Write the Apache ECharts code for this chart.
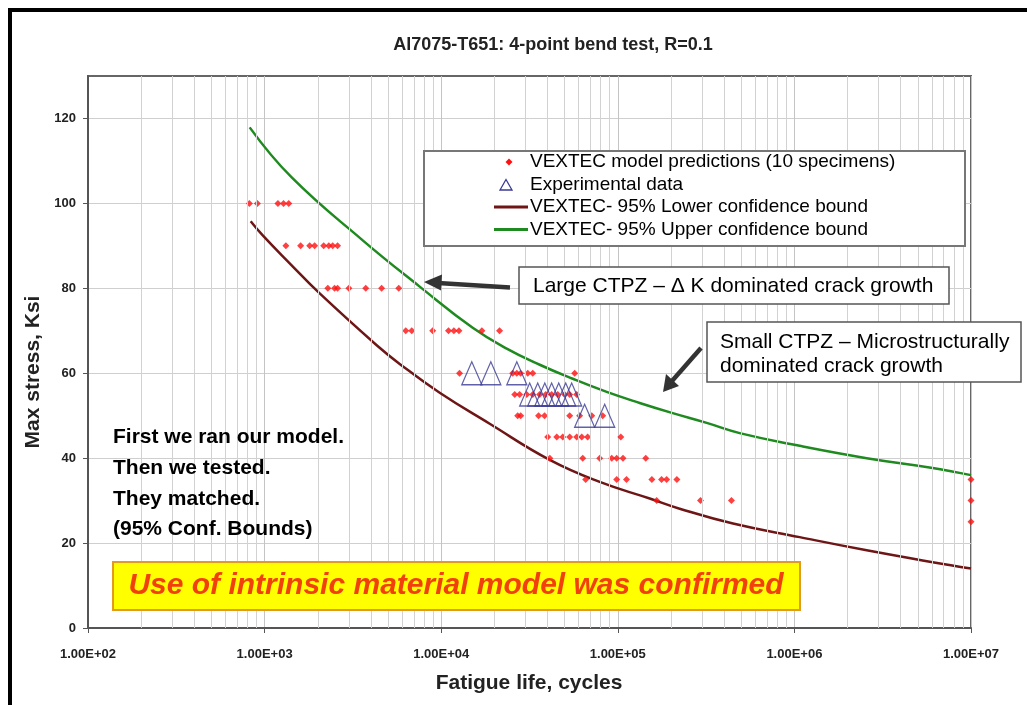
<!DOCTYPE html>
<html>
<head>
<meta charset="utf-8">
<script src="https://cdn.jsdelivr.net/npm/echarts@6/dist/echarts.min.js"></script>
<style>
html, body { margin: 0; padding: 0; background: #fff; }
#main { width: 1027px; height: 705px; }
</style>
</head>
<body>
<div id="main"></div>
<script>
// VEXTEC model predictions, one row of lives per stress level
const predLevels = [100, 90, 80, 70, 60, 55, 50, 45, 40, 35, 30, 25]
const predCycles = [
    [820, 910, 1190, 1280, 1370],
    [1320, 1600, 1800, 1920, 2160, 2310, 2430, 2590],
    [2280, 2490, 2590, 3000, 3740, 4600, 5750],
    [6300, 6810, 8950, 11000, 11800, 12600, 17000, 21400],
    [12700, 25400, 26800, 28200, 30900, 33000, 57000],
    [26100, 27800, 30500, 33000, 36100, 39100, 42200, 45700, 50000, 53400, 58500],
    [27100, 28200, 35600, 38500, 53400, 60800, 71200, 82100],
    [40100, 45100, 48800, 53400, 58500, 62500, 67500, 104000],
    [41200, 63300, 79000, 92400, 98600, 107000, 144000],
    [65800, 98600, 112000, 156000, 177000, 189000, 216000, 10000000],
    [166000, 294000, 440000, 10000000],
    [10000000]
]

// experimental data
const expCycles = [14900, 19100, 26800, 31700, 35200, 38600, 42200, 46300, 50700, 54800, 64900, 84300]
const expStress = [60, 60, 60, 55, 55, 55, 55, 55, 55, 55, 50, 50]

// 95% confidence bounds
const lowerCycles = [834, 979, 1387, 2051, 4312, 5821, 9806, 18820, 41160, 78990, 151600, 224000, 449000, 1071000, 2567000, 6070000, 10000000]
const lowerStress = [95.8, 92.4, 85.9, 78.8, 66.6, 62.2, 55.4, 48.1, 39.6, 34.4, 30.5, 28.1, 24.6, 21.4, 18.3, 15.5, 14.0]
const upperCycles = [823, 1424, 3594, 7554, 15080, 23490, 36130, 55540, 86530, 133000, 204600, 318700, 490000, 1071000, 2567000, 6070000, 10000000]
const upperStress = [117.9, 106.1, 91.3, 80.4, 70.7, 65.8, 62.0, 58.7, 55.6, 53.0, 50.6, 48.3, 45.9, 42.9, 40.0, 37.7, 36.0]

const yTicks = [0, 20, 40, 60, 80, 100, 120]
const decades = [100, 1000, 10000, 100000, 1000000]
const minorSteps = [2, 3, 4, 5, 6, 7, 8, 9]

const names = [
    'VEXTEC model predictions (10 specimens)',
    'Experimental data',
    'VEXTEC- 95% Lower confidence bound',
    'VEXTEC- 95% Upper confidence bound'
]

const font = '"Liberation Sans", Arial, sans-serif'
const predColor = '#ff1010'
const expColor = '#3a3a94'
const lowerColor = '#6e1616'
const upperColor = '#1f8a1f'

const predData = []
predCycles.forEach((row, i) => {
    row.forEach(c => predData.push([c, predLevels[i]]))
})
const expData = expCycles.map((c, i) => [c, expStress[i]])
const lowerData = lowerCycles.map((c, i) => [c, lowerStress[i]])
const upperData = upperCycles.map((c, i) => [c, upperStress[i]])

const minorLines = []
decades.forEach(d => {
    minorSteps.forEach(k => minorLines.push({ xAxis: d * k }))
})

// hand made legend box (rows of 22.5px)
const legendRows = [162, 184.5, 207, 229.5]
const legendGraphics = [
    {
        type: 'rect', z: 30,
        shape: { x: 424, y: 151, width: 541, height: 95 },
        style: { fill: '#fff', stroke: '#777', lineWidth: 2 }
    },
    {
        type: 'polygon', z: 31,
        shape: { points: [[509, 158.5], [512.5, 162], [509, 165.5], [505.5, 162]] },
        style: { fill: predColor }
    },
    {
        type: 'polygon', z: 31,
        shape: { points: [[506, 179.5], [512, 190], [500, 190]] },
        style: { fill: 'none', stroke: expColor, lineWidth: 1.3 }
    },
    {
        type: 'line', z: 31,
        shape: { x1: 494, y1: legendRows[2], x2: 528, y2: legendRows[2] },
        style: { stroke: lowerColor, lineWidth: 3 }
    },
    {
        type: 'line', z: 31,
        shape: { x1: 494, y1: legendRows[3], x2: 528, y2: legendRows[3] },
        style: { stroke: upperColor, lineWidth: 3 }
    }
]
names.forEach((n, i) => {
    legendGraphics.push({
        type: 'text', z: 31, x: 530, y: legendRows[i],
        style: { text: n, font: '19px ' + font, fill: '#000', textVerticalAlign: 'middle' }
    })
})

const chart = echarts.init(document.getElementById('main'))

const option = {
    backgroundColor: '#fff',
    animation: false,
    textStyle: { fontFamily: font },
    grid: {
        left: 88, top: 76, right: 56, bottom: 77,
        show: true, borderColor: '#666', borderWidth: 2,
        outerBoundsMode: 'none'
    },
    xAxis: {
        type: 'log', logBase: 10,
        min: 100, max: 10000000,
        axisLine: { lineStyle: { color: '#555', width: 2 } },
        axisTick: { show: true, length: 5, lineStyle: { color: '#555' } },
        axisLabel: {
            margin: 20, fontSize: 13, fontWeight: 'bold', color: '#222',
            formatter: v => '1.00E+' + String(Math.round(Math.log10(v))).padStart(2, '0')
        },
        splitLine: { show: true, lineStyle: { color: '#c4c4c4', width: 1 } }
    },
    yAxis: {
        type: 'value', min: 0, max: 130,
        axisLine: { show: true, lineStyle: { color: '#555', width: 2 } },
        axisTick: { show: true, length: 5, customValues: yTicks, lineStyle: { color: '#555' } },
        axisLabel: { margin: 12, fontSize: 13, fontWeight: 'bold', color: '#222', customValues: yTicks },
        splitLine: { show: true, lineStyle: { color: '#cfcfcf', width: 1 } }
    },
    series: [
        {
            type: 'line', data: [], z: 1, silent: true,
            markLine: {
                silent: true, symbol: 'none', animation: false,
                label: { show: false },
                lineStyle: { color: '#d2d2d2', width: 1, type: 'solid' },
                emphasis: { disabled: true },
                data: minorLines
            }
        },
        {
            name: names[2], type: 'line', data: lowerData,
            smooth: 0.45, symbol: 'none', z: 3,
            lineStyle: { color: lowerColor, width: 2.5 }
        },
        {
            name: names[3], type: 'line', data: upperData,
            smooth: 0.45, symbol: 'none', z: 3,
            lineStyle: { color: upperColor, width: 2.5 }
        },
        {
            name: names[0], type: 'scatter', data: predData,
            symbol: 'diamond', symbolSize: 7, z: 4,
            itemStyle: { color: predColor }
        },
        {
            name: names[1], type: 'scatter', data: expData,
            symbol: 'triangle', symbolSize: [20, 23], z: 5,
            itemStyle: { color: 'rgba(0,0,0,0)', borderColor: expColor, borderWidth: 1.3 }
        }
    ],
    graphic: legendGraphics.concat([
        {
            type: 'rect', z: 100, silent: true,
            shape: { x: 10, y: 10, width: 1040, height: 720 },
            style: { fill: 'none', stroke: '#000', lineWidth: 4 }
        },
        {
            type: 'text', z: 20, x: 553, y: 45,
            style: {
                text: 'Al7075-T651: 4-point bend test, R=0.1',
                font: 'bold 18px ' + font, fill: '#222',
                textAlign: 'center', textVerticalAlign: 'middle'
            }
        },
        {
            type: 'text', z: 20, x: 33, y: 372, rotation: Math.PI / 2,
            style: {
                text: 'Max stress, Ksi', font: 'bold 21px ' + font, fill: '#222',
                textAlign: 'center', textVerticalAlign: 'middle'
            }
        },
        {
            type: 'text', z: 20, x: 529, y: 683,
            style: {
                text: 'Fatigue life, cycles', font: 'bold 21px ' + font, fill: '#222',
                textAlign: 'center', textVerticalAlign: 'middle'
            }
        },
        // Large CTPZ callout
        {
            type: 'rect', z: 20,
            shape: { x: 519, y: 267, width: 430, height: 37 },
            style: { fill: '#fff', stroke: '#555', lineWidth: 1.5 }
        },
        {
            type: 'text', z: 21, x: 533, y: 286,
            style: {
                text: 'Large CTPZ – Δ K dominated crack growth', font: '21px ' + font, fill: '#000',
                textVerticalAlign: 'middle'
            }
        },
        {
            type: 'line', z: 20,
            shape: { x1: 510, y1: 287.5, x2: 438, y2: 283 },
            style: { stroke: '#333', lineWidth: 4.5 }
        },
        {
            type: 'polygon', z: 20,
            shape: { points: [[424, 282], [442, 274.5], [441, 290.5]] },
            style: { fill: '#333' }
        },
        // Small CTPZ callout
        {
            type: 'rect', z: 20,
            shape: { x: 707, y: 322, width: 314, height: 60 },
            style: { fill: '#fff', stroke: '#555', lineWidth: 1.5 }
        },
        {
            type: 'text', z: 21, x: 720, y: 354,
            style: {
                text: 'Small CTPZ – Microstructurally\ndominated crack growth',
                font: '21px ' + font, fill: '#000', lineHeight: 24,
                textVerticalAlign: 'middle'
            }
        },
        {
            type: 'line', z: 20,
            shape: { x1: 701, y1: 348, x2: 672, y2: 381 },
            style: { stroke: '#333', lineWidth: 4.5 }
        },
        {
            type: 'polygon', z: 20,
            shape: { points: [[663, 392], [666, 374], [679, 386]] },
            style: { fill: '#333' }
        },
        // conclusion text
        {
            type: 'text', z: 20, x: 113, y: 422,
            style: {
                text: 'First we ran our model.\nThen we tested.\nThey matched.\n(95% Conf. Bounds)',
                font: 'bold 21px ' + font, fill: '#000', lineHeight: 30.7
            }
        },
        {
            type: 'rect', z: 20,
            shape: { x: 113, y: 562, width: 687, height: 48 },
            style: { fill: '#ffff00', stroke: '#e39a1e', lineWidth: 2 }
        },
        {
            type: 'text', z: 21, x: 456, y: 586,
            style: {
                text: 'Use of intrinsic material model was confirmed',
                font: 'italic bold 30px ' + font, fill: '#f2400c',
                textAlign: 'center', textVerticalAlign: 'middle'
            }
        }
    ])
}

chart.setOption(option)
</script>
</body>
</html>
